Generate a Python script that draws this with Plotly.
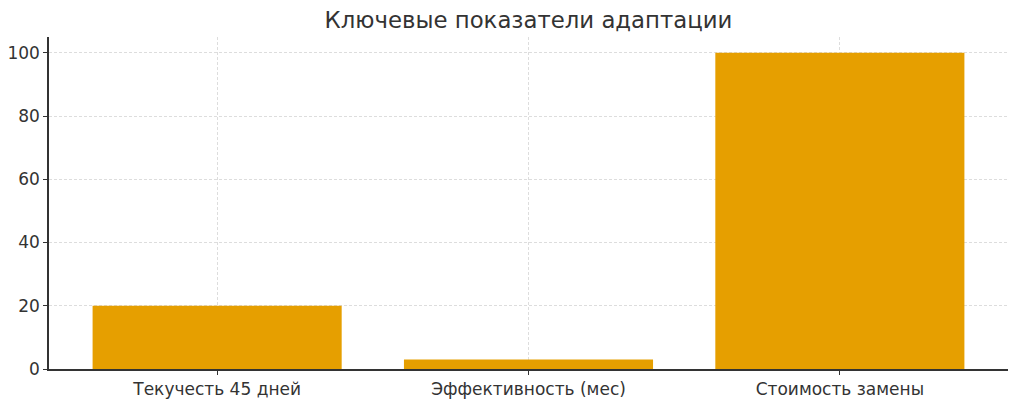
import plotly.graph_objects as go

categories = ["Текучесть 45 дней", "Эффективность (мес)", "Стоимость замены"]
values = [20, 3, 100]
y_ticks = [0, 20, 40, 60, 80, 100]

FONT = "DejaVu Sans"

fig = go.Figure(
    go.Bar(
        x=categories,
        y=values,
        marker_color="#E69F00",
        marker_line_width=0,
        width=0.8,
    )
)

# page body adds 8px offset, margins compensate for it
fig.update_layout(
    width=1024,
    height=407,
    margin=dict(l=41, r=24, t=29, b=46),
    plot_bgcolor="white",
    paper_bgcolor="white",
    font=dict(family=FONT, size=17, color="#333333"),
    title=dict(
        text="Ключевые показатели адаптации",
        x=0.5,
        xref="paper",
        xanchor="center",
        yref="container",
        y=1 - 12 / 407,
        yanchor="middle",
        font=dict(family=FONT, size=22.8, color="#333333"),
    ),
    showlegend=False,
)

axis_style = dict(
    showline=True,
    linecolor="#333333",
    linewidth=1.5,
    ticks="outside",
    ticklen=4,
    tickcolor="#333333",
    showgrid=True,
    gridcolor="#dddddd",
    griddash="3px,2px",
    gridwidth=1,
    automargin=False,
)

fig.update_xaxes(range=[-0.54, 2.54], **axis_style)
fig.update_yaxes(range=[0, 105], tickvals=y_ticks, zeroline=False, **axis_style)

fig.write_html("out.html")
